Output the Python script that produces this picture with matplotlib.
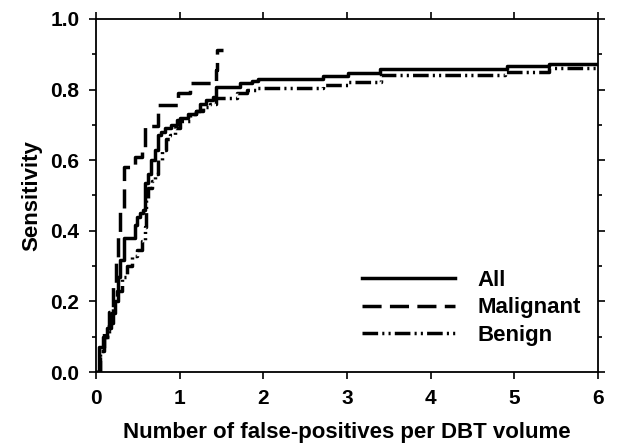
import numpy as np
import matplotlib
matplotlib.use("Agg")
from matplotlib import pyplot as plt
from matplotlib.ticker import MultipleLocator, FormatStrFormatter

# FROC curves: false-positives per DBT volume vs sensitivity (step curves)
all_fp = [0, 0.03, 0.08, 0.13, 0.18, 0.23, 0.26, 0.29, 0.33, 0.47, 0.49,
          0.52, 0.56, 0.585, 0.62, 0.66, 0.70, 0.74, 0.78, 0.82, 0.90,
          0.97, 1.0, 1.1, 1.2, 1.24, 1.32, 1.4, 1.44, 1.72, 1.86, 1.94,
          2.71, 3.01, 3.39, 4.91, 5.42, 6.0]
all_sens = [0, 0.07, 0.10, 0.125, 0.167, 0.20, 0.27, 0.317, 0.38, 0.416,
            0.44, 0.45, 0.46, 0.535, 0.56, 0.60, 0.63, 0.67, 0.68, 0.69,
            0.70, 0.714, 0.72, 0.73, 0.74, 0.76, 0.77, 0.78, 0.808, 0.818,
            0.825, 0.83, 0.838, 0.848, 0.857, 0.867, 0.873, 0.873]

malignant_fp = [0, 0.05, 0.10, 0.15, 0.20, 0.24, 0.26, 0.29, 0.33, 0.47,
                0.55, 0.585, 0.745, 0.984, 1.123, 1.43, 1.45, 1.52]
malignant_sens = [0, 0.06, 0.12, 0.17, 0.24, 0.32, 0.39, 0.46, 0.58, 0.61,
                  0.638, 0.697, 0.756, 0.789, 0.818, 0.855, 0.912, 0.912]

benign_fp = [0, 0.05, 0.10, 0.15, 0.20, 0.25, 0.31, 0.37, 0.43, 0.49,
             0.55, 0.585, 0.60, 0.62, 0.67, 0.70, 0.74, 0.79, 0.84, 0.88,
             0.94, 1.0, 1.12, 1.2, 1.28, 1.36, 1.44, 1.68, 1.8, 1.92, 2.71,
             3.01, 3.41, 4.89, 5.42, 6.0]
benign_sens = [0, 0.06, 0.10, 0.14, 0.19, 0.23, 0.27, 0.30, 0.33, 0.345,
               0.37, 0.41, 0.49, 0.52, 0.54, 0.56, 0.60, 0.63, 0.66, 0.67,
               0.69, 0.71, 0.73, 0.74, 0.75, 0.76, 0.775, 0.79, 0.80, 0.804,
               0.813, 0.822, 0.841, 0.851, 0.86, 0.86]

plt.rcParams["font.family"] = ["Liberation Sans", "DejaVu Sans"]
plt.rcParams["font.weight"] = "bold"

fig = plt.figure(figsize=(6.17, 4.46), dpi=100)
ax = fig.add_axes([96 / 617, 1 - 372 / 446, 502 / 617, 353 / 446])

ax.step(all_fp, all_sens, where="post", color="black", lw=2.5,
        label="All")
ax.step(malignant_fp, malignant_sens, where="post", color="black", lw=2.5,
        linestyle=(0, (5.5, 2.4)), label="Malignant")
ax.step(benign_fp, benign_sens, where="post", color="black", lw=2.5,
        linestyle=(0, (4.5, 1.2, 0.6, 1.2, 0.6, 1.2)), label="Benign")

ax.set_xlim(0, 6)
ax.set_ylim(0, 1.0)
ax.xaxis.set_major_locator(MultipleLocator(1))
ax.yaxis.set_major_locator(MultipleLocator(0.2))
ax.yaxis.set_minor_locator(MultipleLocator(0.1))
ax.yaxis.set_major_formatter(FormatStrFormatter("%.1f"))

for side in ax.spines.values():
    side.set_linewidth(1.3)
ax.tick_params(which="major", direction="out", length=5, width=1.2,
               top=True, right=True, labelsize=15, pad=7)
ax.tick_params(which="minor", direction="out", length=3, width=1.2,
               top=True, right=True)

ax.set_xlabel("Number of false-positives per DBT volume", fontsize=16,
              fontweight="bold", labelpad=10)
ax.set_ylabel("Sensitivity", fontsize=16, fontweight="bold", labelpad=6)

ax.legend(loc="upper left", bbox_to_anchor=(266 / 502, 0.29), frameon=False,
          handlelength=4.2, handletextpad=1.0, labelspacing=0.3,
          borderpad=0, borderaxespad=0,
          prop={"weight": "bold", "size": 16})

fig.savefig("out.png", dpi=100)
